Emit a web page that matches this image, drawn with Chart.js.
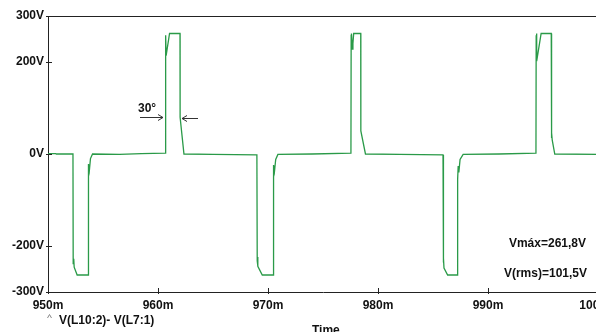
<!DOCTYPE html>
<html>
<head>
<meta charset="utf-8">
<script src="https://cdn.jsdelivr.net/npm/chart.js@4/dist/chart.umd.min.js"></script>
<style>
  html, body { margin: 0; padding: 0; background: #fff; overflow: hidden; }
  #wrap { width: 598px; height: 332px; }
</style>
</head>
<body>
<div id="wrap"><canvas id="trace"></canvas></div>
<script>
// V(L10:2) - V(L7:1) over 950..1000 ms
const timeMs = [
  950.00, 950.70, 950.75, 952.27,
  952.29, 952.34, 952.38, 952.65, 953.65, 953.66, 953.70, 953.76, 953.86, 954.05,
  956.50, 958.50, 960.66,
  960.68, 960.71, 960.74, 961.05, 962.00, 962.01, 962.36,
  965.00, 968.99,
  969.02, 969.06, 969.09, 969.48, 970.47, 970.48, 970.53, 970.59, 970.70, 970.90,
  974.00, 977.54,
  977.56, 977.59, 977.66, 977.72, 977.79, 978.43, 978.44, 978.86,
  982.00, 985.91,
  985.93, 985.97, 986.00, 986.33, 987.23, 987.24, 987.29, 987.35, 987.46, 987.74,
  991.00, 994.36,
  994.38, 994.41, 994.44, 994.83, 995.75, 995.76, 995.80, 995.84, 996.07,
  1000.00
];
const voltsV = [
  1, 1, 0, 0,
  -238, -228, -246, -263, -263, -50, -22, -36, -10, 0,
  -1, 1, 2,
  252, 258, 214, 262, 262, 80, 0,
  -1, -2,
  -232, -224, -244, -263, -263, -52, -24, -38, -12, -1,
  0, 2,
  258, 262, 228, 240, 262, 262, 50, 0,
  -1, -2,
  -236, -226, -248, -263, -263, -55, -26, -40, -12, -1,
  0, 2,
  258, 262, 202, 262, 262, 35, 46, 30, 0,
  -1
];

const xTicks = [950, 960, 970, 980, 990, 1000];
const yTicks = [300, 200, 0, -200, -300];

const traceName = 'V(L10:2)- V(L7:1)';
const axisTitle = 'Time';
const peakText = 'Vmáx=261,8V';
const rmsText = 'V(rms)=101,5V';
const angleText = '30°';

const FONT = "'Liberation Sans', Arial, sans-serif";
Chart.defaults.font.family = FONT;
Chart.defaults.font.weight = 'bold';
Chart.defaults.color = '#111';

function arrow(ctx, x0, y0, x1, y1) {
  ctx.beginPath();
  ctx.moveTo(x0, y0);
  ctx.lineTo(x1, y1);
  ctx.stroke();
  const dir = Math.sign(x1 - x0);
  ctx.beginPath();
  ctx.moveTo(x1 - dir * 5, y1 - 3);
  ctx.lineTo(x1, y1);
  ctx.lineTo(x1 - dir * 5, y1 + 3);
  ctx.stroke();
}

const decorations = {
  id: 'decorations',
  afterDraw(chart) {
    const { ctx, chartArea: a, scales: { x, y } } = chart;
    ctx.save();
    ctx.strokeStyle = '#222';
    ctx.lineWidth = 1;

    // frame top
    ctx.beginPath();
    ctx.moveTo(a.left, a.top + 0.5);
    ctx.lineTo(a.right, a.top + 0.5);
    ctx.stroke();

    // short inward ticks
    xTicks.forEach(v => {
      const px = Math.round(x.getPixelForValue(v)) + 0.5;
      ctx.beginPath();
      ctx.moveTo(px, a.bottom - 4);
      ctx.lineTo(px, a.bottom + 2);
      ctx.stroke();
    });
    yTicks.forEach(v => {
      const py = Math.round(y.getPixelForValue(v)) + 0.5;
      ctx.beginPath();
      ctx.moveTo(a.left - 2, py);
      ctx.lineTo(a.left + 4, py);
      ctx.stroke();
    });

    ctx.fillStyle = '#111';
    ctx.textBaseline = 'alphabetic';

    // firing angle note
    ctx.font = 'bold 12px ' + FONT;
    ctx.textAlign = 'left';
    ctx.fillText(angleText, 138, 112);
    ctx.strokeStyle = '#333';
    arrow(ctx, 140, 117.5, 163, 117.5);
    arrow(ctx, 198, 118.5, 182, 118.5);

    // measurements
    ctx.textAlign = 'right';
    ctx.fillText(peakText, 586, 247);
    ctx.fillText(rmsText, 587, 277);

    // trace legend and axis title
    ctx.textAlign = 'left';
    ctx.strokeStyle = '#888';
    ctx.beginPath();
    ctx.moveTo(47.5, 318);
    ctx.lineTo(49.5, 314.5);
    ctx.lineTo(51.5, 318);
    ctx.stroke();
    ctx.fillText(traceName, 59, 324);
    ctx.fillText(axisTitle, 312, 334);

    ctx.restore();
  }
};

new Chart(document.getElementById('trace'), {
  type: 'line',
  data: {
    datasets: [{
      data: timeMs.map((t, i) => ({ x: t, y: voltsV[i] })),
      borderColor: '#2a9a48',
      borderWidth: 1.3,
      pointRadius: 0,
      tension: 0,
      fill: false
    }]
  },
  options: {
    responsive: true,
    maintainAspectRatio: false,
    animation: false,
    layout: { padding: { top: 16, left: 0, right: 0, bottom: 0 } },
    plugins: { legend: { display: false }, tooltip: { enabled: false } },
    scales: {
      x: {
        type: 'linear',
        min: 950,
        max: 1000,
        afterBuildTicks: s => { s.ticks = xTicks.map(v => ({ value: v })); },
        afterFit: s => { s.height = 40; s.paddingLeft = 0; s.paddingRight = 0; },
        ticks: {
          autoSkip: false,
          maxRotation: 0,
          padding: 6,
          font: { size: 12, weight: 'bold' },
          color: '#111',
          callback: v => v + 'm'
        },
        grid: { display: false, drawTicks: false },
        border: { display: true, color: '#222', width: 1 }
      },
      y: {
        min: -300,
        max: 300,
        afterBuildTicks: s => { s.ticks = yTicks.map(v => ({ value: v })); },
        afterFit: s => { s.width = 48; s.paddingTop = 0; s.paddingBottom = 0; },
        ticks: {
          autoSkip: false,
          padding: 4,
          font: { size: 12, weight: 'bold' },
          color: '#111',
          callback: v => v + 'V'
        },
        grid: { display: false, drawTicks: false },
        border: { display: true, color: '#222', width: 1 }
      }
    }
  },
  plugins: [decorations]
});
</script>
</body>
</html>
